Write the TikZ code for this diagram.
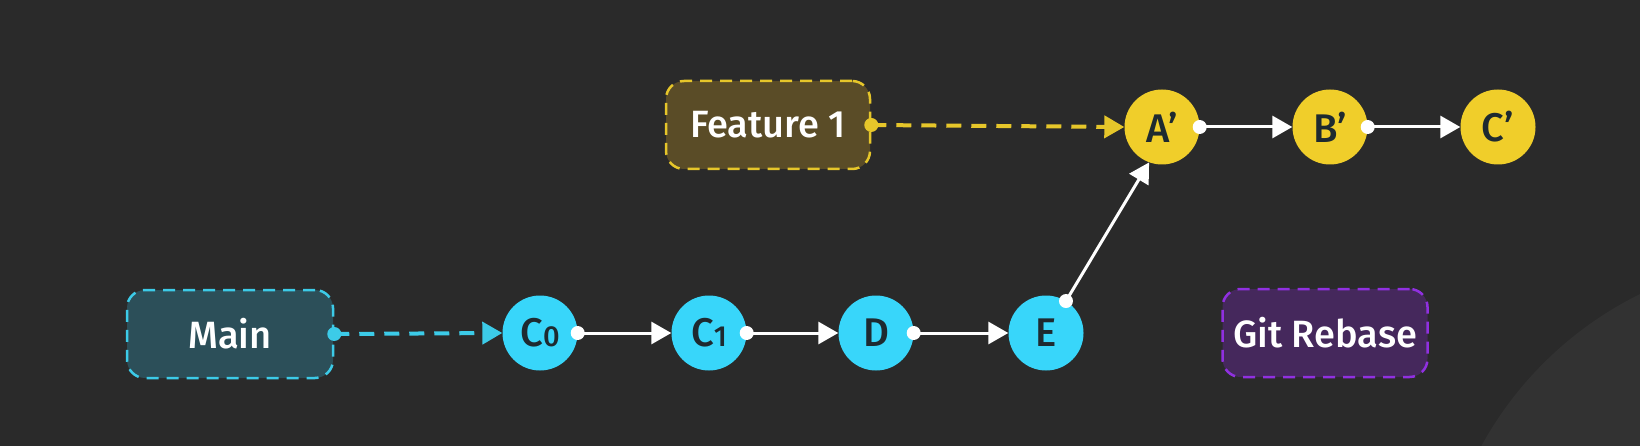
\documentclass[tikz,border=0pt]{standalone}
\usepackage{fontspec}
\setmainfont{Fira Sans Medium}
\usetikzlibrary{arrows.meta}
\definecolor{bg}{HTML}{2A2A2A}
\definecolor{bglight}{HTML}{323232}
\definecolor{cyanc}{HTML}{38D6FA}
\definecolor{yellowc}{HTML}{F0CE2A}
\definecolor{commtext}{HTML}{1E2A30}
\definecolor{mainfill}{HTML}{2C4F59}
\definecolor{mainline}{HTML}{3CCBE8}
\definecolor{featfill}{HTML}{5A4C27}
\definecolor{featline}{HTML}{E6C62A}
\definecolor{gitfill}{HTML}{45285C}
\definecolor{gitline}{HTML}{9030E0}
\begin{document}
\begin{tikzpicture}[x=1pt,y=-1pt,
  commit/.style={circle, minimum size=75pt, inner sep=0pt, text=commtext,
    font=\fontsize{40}{40}\selectfont},
  label box/.style={rounded corners=18pt, dashed, line width=2.5pt,
    dash pattern=on 12pt off 8pt, minimum width=#1, minimum height=88pt,
    inner sep=0pt, text=white, font=\fontsize{38}{38}\selectfont},
  link/.style={draw=white, line width=3pt, -{Triangle[length=20pt,width=22pt]}},
  ptr/.style={line width=4pt, dash pattern=on 15pt off 10pt,
    -{Triangle[length=20pt,width=22pt]}},
  dot/.style={circle, fill=#1, minimum size=14pt, inner sep=0pt}
]
\fill[bg] (0,0) rectangle (1640,446);
\begin{scope}
  \clip (0,0) rectangle (1640,446);
  \fill[bglight] (1800,620) circle (363pt);
\end{scope}
\useasboundingbox (0,0) rectangle (1640,446);

% label boxes
\node[label box=206pt, draw=mainline, fill=mainfill] (main) at (230,334) {Main};
\node[label box=204pt, draw=featline, fill=featfill] (feat) at (768,125) {Feature 1};
\node[label box=205pt, draw=gitline, fill=gitfill] (git) at (1325,333) {Git Rebase};

% commits
\node[commit, fill=cyanc] (c0) at (540,333) {C\fontsize{29}{29}\selectfont 0};
\node[commit, fill=cyanc] (c1) at (709,333) {C\fontsize{29}{29}\selectfont 1};
\node[commit, fill=cyanc] (d) at (876,333) {D};
\node[commit, fill=cyanc] (e) at (1046,333) {E};
\node[commit, fill=yellowc] (a) at (1162,127) {A’};
\node[commit, fill=yellowc] (b) at (1330,127) {B’};
\node[commit, fill=yellowc] (c) at (1498,127) {C’};

% pointers
\draw[ptr, draw=mainline, -{Triangle[length=20pt,width=22pt,fill=mainline]}] (main.east) -- (c0.west);
\node[dot=mainline] (dm) at (main.east) {};
\draw[ptr, draw=featline] (feat.east) -- (a.west);
\node[dot=featline] (df) at (feat.east) {};

% links
\draw[link] (c0.east) -- (c1.west);
\node[dot=white] (d0) at (c0.east) {};
\draw[link] (c1.east) -- (d.west);
\node[dot=white] (d1) at (c1.east) {};
\draw[link] (d.east) -- (e.west);
\node[dot=white] (d2) at (d.east) {};
\draw[link] (e.58) -- (a.250);
\node[dot=white] (d3) at (e.58) {};
\draw[link] (a.east) -- (b.west);
\node[dot=white] (d4) at (a.east) {};
\draw[link] (b.east) -- (c.west);
\node[dot=white] (d5) at (b.east) {};
\end{tikzpicture}
\end{document}
